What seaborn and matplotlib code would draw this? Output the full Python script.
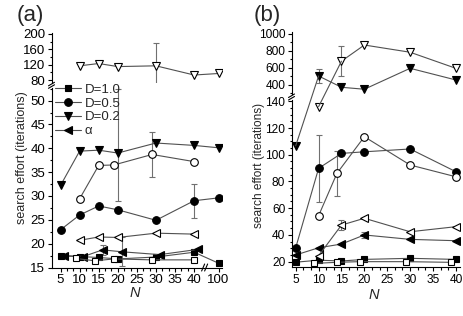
import numpy as np
import matplotlib
matplotlib.use('Agg')
import matplotlib.pyplot as plt
import seaborn as sns
from matplotlib.lines import Line2D
from matplotlib.patches import ConnectionPatch
from matplotlib.ticker import FixedLocator, MultipleLocator, AutoMinorLocator

# ---------------- panel (a) data ----------------
a_N_d10 = [5, 10, 15, 20, 30, 40, 100]
a_d10 = [17.4, 17.3, 17.1, 16.8, 17.2, 18.2, 15.9]

a_N_d05 = [5, 10, 15, 20, 30, 40, 100]
a_d05 = [22.9, 26.0, 27.9, 27.1, 24.9, 29.0, 29.6]
a_d05_err = [0, 0, 0, 0, 0, 3.6, 0]

a_N_d02 = [5, 10, 15, 20, 30, 40, 100]
a_d02 = [32.2, 39.4, 39.6, 39.0, 41.1, 40.6, 40.1]
a_d02_lo = [0, 0, 0, 10.0, 0, 0, 0]
a_d02_hi = [0, 0, 0, 13.5, 0, 0, 0]

a_N_alpha = [6, 11, 16, 21, 31, 41]
a_alpha = [17.5, 17.3, 18.7, 18.3, 17.7, 18.8]
a_alpha_err = [0, 0, 1.1, 3.0, 0, 0]

a_N_osq = [9, 14, 19, 29, 40]
a_osq = [16.9, 16.4, 16.8, 16.6, 16.6]

a_N_ocirc = [10, 15, 19, 29, 40]
a_ocirc = [29.4, 36.4, 36.5, 38.7, 37.2]
a_ocirc_err = [0, 0, 0, 4.8, 0]

a_N_otri = [10, 15, 20, 30, 40]
a_otri = [20.7, 21.4, 21.3, 22.2, 22.0]

a_N_odown = [10, 15, 20, 30, 40, 100]
a_odown = [117, 123, 115, 117, 93, 97]
a_odown_err = [0, 0, 0, 59, 0, 0]

a_xticks = [5, 10, 15, 20, 25, 30, 35, 40, 100]

# ---------------- panel (b) data ----------------
b_N = [5, 10, 15, 20, 30, 40]
b_d10 = [19.5, 21.0, 20.4, 21.6, 22.4, 21.6]
b_d05 = [30.3, 89.8, 101.0, 102.2, 104.3, 87.3]
b_d05_err = [0, 25, 0, 0, 0, 0]
b_d02 = [106.7, 506, 373, 350, 596, 459]
b_d02_err = [0, 80, 0, 0, 0, 0]
b_alpha = [24.9, 30.3, 33.1, 39.9, 36.6, 35.6]
b_alpha_err = [0, 0, 0, 2.5, 0, 0]

b_N_osq = [9, 14, 19, 29, 39]
b_osq = [18.6, 19.4, 19.9, 19.9, 19.4]

b_N_ocirc = [10, 14, 20, 30, 40]
b_ocirc = [54.3, 86.0, 113.5, 92.3, 83.5]
b_ocirc_err = [0, 17, 0, 0, 0]

b_N_otri = [10, 15, 20, 30, 40]
b_otri = [24.3, 47.3, 52.4, 42.3, 46.1]
b_otri_err = [0, 4, 0, 0, 0]

b_N_odown = [10, 15, 20, 30, 40]
b_odown = [136, 680, 870, 785, 596]
b_odown_err = [0, 175, 0, 0, 0]

legend_labels = ['D=1.0', 'D=0.5', 'D=0.2', 'α']

LINE = '#505050'
ERR = '#707070'

sns.set_style('ticks')
plt.rcParams['font.family'] = ['Liberation Sans', 'DejaVu Sans']

W, H = 463, 316
fig = plt.figure(figsize=(W / 100, H / 100), dpi=100)


def box(x0, y0, x1, y1):
    return [x0 / W, 1 - y1 / H, (x1 - x0) / W, (y1 - y0) / H]


# broken x axis for panel (a): linear up to 42, compressed afterwards
BRK, K = 42.0, 0.0759


def fwd(n):
    n = np.asarray(n, float)
    return np.where(n <= BRK, n, BRK + (n - BRK) * K)


def inv(p):
    p = np.asarray(p, float)
    return np.where(p <= BRK, p, BRK + (p - BRK) / K)


axA_lo = fig.add_axes(box(51.5, 87.7, 222, 267.5))
axA_hi = fig.add_axes(box(51.5, 33, 222, 83))
axB_lo = fig.add_axes(box(291.5, 100, 460, 267))
axB_hi = fig.add_axes(box(291.5, 32, 460, 94))

for ax in (axA_lo, axA_hi):
    ax.set_xscale('function', functions=(fwd, inv))
    ax.set_xlim(2.64, float(inv(47.3)))
for ax in (axB_lo, axB_hi):
    ax.set_xlim(4.08, 40.9)

axA_lo.set_ylim(15, 52.7)
axA_hi.set_ylim(72.2, 202.6)
axB_lo.set_ylim(15.9, 141)
axB_hi.set_ylim(294, 1023)


def draw(ax, N, vals, marker, filled, ms=5.5, lo=None, hi=None):
    sns.lineplot(x=N, y=vals, ax=ax, color=LINE, lw=0.8, marker=marker,
                 markersize=ms, markerfacecolor='k' if filled else 'w',
                 markeredgecolor='k', markeredgewidth=0.8, sort=False,
                 legend=False, zorder=3)
    line = ax.lines[-1]
    if lo is not None:
        hi = lo if hi is None else hi
        for n, v, l, h in zip(N, vals, lo, hi):
            if l or h:
                ax.errorbar([n], [v], yerr=[[l], [h]], fmt='none', ecolor=ERR,
                            elinewidth=0.8, capsize=2, capthick=0.8, zorder=2)
    return line


def draw_split(ax_lo, ax_hi, N, vals, marker, filled, ms=5.5, err=None):
    top = ax_lo.get_ylim()[1]
    N = list(N)
    vals = list(vals)
    err = err if err is not None else [0] * len(N)
    low = [i for i, v in enumerate(vals) if v <= top]
    high = [i for i, v in enumerate(vals) if v > top]
    if low:
        draw(ax_lo, [N[i] for i in low], [vals[i] for i in low], marker, filled, ms,
             [err[i] for i in low])
    if high:
        draw(ax_hi, [N[i] for i in high], [vals[i] for i in high], marker, filled, ms,
             [err[i] for i in high])
    for i in range(len(N) - 1):
        a, b = vals[i], vals[i + 1]
        if (a <= top) != (b <= top):
            axa = ax_lo if a <= top else ax_hi
            axb = ax_lo if b <= top else ax_hi
            con = ConnectionPatch(xyA=(N[i], a), coordsA=axa.transData,
                                  xyB=(N[i + 1], b), coordsB=axb.transData,
                                  color=LINE, lw=0.8, zorder=1)
            fig.add_artist(con)


# ---- panel (a) ----
h1 = draw(axA_lo, a_N_d10, a_d10, 's', True, ms=4.8)
h2 = draw(axA_lo, a_N_d05, a_d05, 'o', True, lo=a_d05_err)
h3 = draw(axA_lo, a_N_d02, a_d02, 'v', True, lo=a_d02_lo, hi=a_d02_hi)
h4 = draw(axA_lo, a_N_alpha, a_alpha, '<', True, lo=a_alpha_err)
draw(axA_lo, a_N_osq, a_osq, 's', False, ms=4.8)
draw(axA_lo, a_N_ocirc, a_ocirc, 'o', False, lo=a_ocirc_err)
draw(axA_lo, a_N_otri, a_otri, '<', False)
draw(axA_hi, a_N_odown, a_odown, 'v', False, lo=a_odown_err)

# ---- panel (b) ----
draw(axB_lo, b_N, b_d10, 's', True, ms=4.8)
draw(axB_lo, b_N, b_d05, 'o', True, lo=b_d05_err)
draw_split(axB_lo, axB_hi, b_N, b_d02, 'v', True, err=b_d02_err)
draw(axB_lo, b_N, b_alpha, '<', True, lo=b_alpha_err)
draw(axB_lo, b_N_osq, b_osq, 's', False, ms=4.8)
draw(axB_lo, b_N_ocirc, b_ocirc, 'o', False, lo=b_ocirc_err)
draw(axB_lo, b_N_otri, b_otri, '<', False, lo=b_otri_err)
draw_split(axB_lo, axB_hi, b_N_odown, b_odown, 'v', False, err=b_odown_err)

# ---- axes styling ----
for ax, fs in ((axA_lo, 9.5), (axA_hi, 9.5), (axB_lo, 8.6), (axB_hi, 8.6)):
    for s in ('top', 'right'):
        ax.spines[s].set_visible(False)
    for s in ('left', 'bottom'):
        ax.spines[s].set_linewidth(0.8)
        ax.spines[s].set_color('k')
    ax.tick_params(which='both', direction='out', width=0.8, color='k',
                   labelsize=fs, labelcolor='k')
    ax.tick_params(which='major', length=3)
    ax.tick_params(which='minor', length=1.8)
    ax.tick_params(axis='y', pad=1.5)
    ax.tick_params(axis='x', pad=2)
    ax.set_xlabel('')
    ax.set_ylabel('')

for ax in (axA_hi, axB_hi):
    ax.spines['bottom'].set_visible(False)
    ax.tick_params(axis='x', which='both', bottom=False, labelbottom=False)

axA_lo.xaxis.set_major_locator(FixedLocator(a_xticks))
axA_lo.set_xticklabels([str(t) for t in a_xticks])
minors = [m for m in np.arange(5, 40.01, 5 / 3) if abs(m / 5 - round(m / 5)) > 1e-6]
axA_lo.xaxis.set_minor_locator(FixedLocator(minors))
axA_hi.xaxis.set_major_locator(FixedLocator(a_xticks))
axA_hi.xaxis.set_minor_locator(FixedLocator(minors))

axA_lo.yaxis.set_major_locator(MultipleLocator(5))
axA_lo.yaxis.set_minor_locator(MultipleLocator(2.5))
axA_hi.yaxis.set_major_locator(MultipleLocator(40))
axA_hi.yaxis.set_minor_locator(MultipleLocator(20))

axB_lo.xaxis.set_major_locator(MultipleLocator(5))
axB_lo.xaxis.set_minor_locator(AutoMinorLocator(3))
axB_lo.yaxis.set_major_locator(MultipleLocator(20))
axB_lo.yaxis.set_minor_locator(MultipleLocator(5))
axB_hi.yaxis.set_major_locator(MultipleLocator(200))
axB_hi.yaxis.set_minor_locator(MultipleLocator(100))


# ---- break marks ----
def slashes(xc, yc, dx=3.0, dy=3.5, gap=3.0, horizontal=False):
    for k in (-gap / 2, gap / 2):
        if horizontal:
            xs = [xc + k - dx / 2, xc + k + dx / 2]
            ys = [yc + dy / 2, yc - dy / 2]
        else:
            xs = [xc - dx, xc + dx]
            ys = [yc + k + dy / 2, yc + k - dy / 2]
        fig.add_artist(Line2D([x / W for x in xs], [1 - y / H for y in ys],
                              transform=fig.transFigure, color='k', lw=0.8))


slashes(51.5, 85.3, gap=2.5)
slashes(291.5, 97.0, gap=2.5)
xb = axA_lo.transData.transform((float(inv(42.75)), 15))[0]
slashes(xb, 267.5, dx=3, dy=7, gap=3, horizontal=True)

# ---- legend ----
axA_lo.legend([h1, h2, h3, h4], legend_labels, loc='upper left',
              bbox_to_anchor=(55 / W, 1 - 83.5 / H), bbox_transform=fig.transFigure,
              frameon=False, borderpad=0, borderaxespad=0, handlelength=2.0,
              handletextpad=0.25, labelspacing=0.12, fontsize=9.5)

# ---- texts ----
fig.text(22.5 / W, 1 - 158 / H, 'search effort (iterations)', rotation=90,
         ha='center', va='center', fontsize=9)
fig.text(259 / W, 1 - 165 / H, 'search effort (iterations)', rotation=90,
         ha='center', va='center', fontsize=8.6)
fig.text(135 / W, 1 - 293 / H, 'N', style='italic', ha='center', va='center', fontsize=10.5)
fig.text(374 / W, 1 - 295 / H, 'N', style='italic', ha='center', va='center', fontsize=10.5)
fig.text(30 / W, 1 - 15 / H, '(a)', ha='center', va='center', fontsize=16)
fig.text(267 / W, 1 - 15 / H, '(b)', ha='center', va='center', fontsize=16)

fig.savefig('out.png', dpi=100)
